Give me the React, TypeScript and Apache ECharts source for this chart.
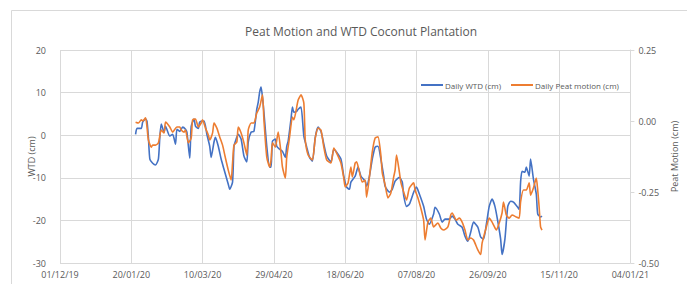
import React, { useEffect, useRef } from "react";
import * as echarts from "echarts";

// x values: days since 01/12/19
const startDateUTC = Date.UTC(2019, 11, 1);
const xTickDays = [0, 50, 100, 150, 200, 250, 300, 350, 400];
const wtdTicks = [-30, -20, -10, 0, 10, 20];
const peatTicks = [-0.5, -0.25, 0, 0.25];

const titleText = "Peat Motion and WTD Coconut Plantation";
const wtdName = "Daily WTD (cm)";
const peatName = "Daily Peat motion (cm)";

// [day, WTD cm]
const wtdSeries: [number, number][] = [
  [53, 0.2], [54, 1.6], [57, 1.6], [58, 3.1], [60, 3.8], [61, 3.3], [62, -0.5], [63, -5.6], [65, -6.6], [67, -7.0],
  [69, -5.6], [70, -0.5], [71, 2.6], [73, 0.7], [74, 2.1], [77, -0.2], [79, 0.2], [81, -2.1], [82, 1.4], [84, 0.9],
  [86, 1.9], [88, 1.4], [89, 0.7], [91, -5.4], [92, 2.1], [94, 3.8], [95, 2.1], [97, 1.6], [98, 3.1], [101, 3.3],
  [103, 0.2], [105, -2.6], [106, -5.2], [108, -1.6], [109, -0.5], [111, -2.6], [113, -5.6], [115, -8.0], [118, -11.5], [119, -12.7],
  [121, -11.0], [122, -2.6], [123, -1.4], [125, 0.2], [127, -0.9], [129, -4.9], [131, -6.3], [132, -1.6], [134, 0.7], [136, 0.9],
  [138, 6.1], [139, 7.7], [140, 10.1], [141, 11.3], [142, 8.9], [143, 5.4], [145, -2.6], [147, -7.5], [148, -7.5], [149, -1.4],
  [151, -0.9], [152, -2.6], [154, -3.3], [156, -3.8], [158, -5.2], [159, -2.6], [160, -1.4], [162, 3.8], [163, 6.6], [164, 5.4],
  [166, 5.6], [167, 6.1], [169, 6.6], [171, -0.2], [173, -2.8], [175, -5.2], [177, -6.1], [179, -0.5], [181, 1.9], [183, 0.9],
  [185, -2.1], [187, -4.9], [190, -6.3], [192, -3.3], [194, -4.0], [197, -5.6], [199, -9.6], [201, -12.2], [203, -12.7], [204, -11.0],
  [207, -9.6], [209, -7.5], [211, -9.6], [214, -10.8], [215, -12.0], [217, -9.6], [219, -5.6], [221, -2.8], [223, -2.6], [225, -5.6],
  [227, -9.6], [228, -12.0], [231, -13.4], [233, -12.7], [235, -10.8], [238, -9.9], [240, -11.0], [241, -14.1], [243, -16.7], [245, -16.2],
  [248, -13.4], [250, -12.2], [252, -13.8], [255, -16.7], [257, -19.7], [259, -20.9], [262, -18.5], [263, -16.9], [266, -18.5], [268, -20.4],
  [270, -19.7], [273, -19.7], [275, -19.0], [277, -19.7], [279, -20.9], [282, -21.6], [284, -23.7], [286, -24.9], [288, -22.8], [290, -20.4],
  [293, -21.6], [295, -23.9], [297, -24.4], [299, -20.9], [301, -16.7], [303, -15.0], [305, -16.7], [307, -20.2], [309, -24.4], [310, -28.0],
  [312, -24.4], [314, -16.7], [316, -15.5], [318, -15.7], [321, -16.9], [322, -17.4], [323, -11.0], [324, -8.5], [326, -8.7], [327, -7.5],
  [329, -9.6], [330, -5.6], [332, -10.3], [334, -13.8], [335, -18.5], [337, -19.2], [338, -19.0],
];

// [day, peat motion cm]
const peatSeries: [number, number][] = [
  [53, -0.004], [55, -0.007], [57, 0.004], [58, 0.0], [60, 0.011], [61, -0.021], [62, -0.067], [64, -0.092], [65, -0.085], [67, -0.085],
  [69, -0.077], [71, -0.032], [73, -0.042], [74, -0.004], [77, -0.021], [79, -0.039], [82, -0.021], [84, -0.021], [85, -0.032], [87, -0.039],
  [88, -0.032], [90, -0.077], [92, -0.06], [93, 0.004], [95, 0.007], [97, -0.021], [99, -0.007], [100, 0.004], [102, -0.025], [104, -0.049],
  [105, -0.067], [107, -0.042], [108, -0.007], [110, -0.025], [112, -0.056], [114, -0.085], [116, -0.13], [118, -0.173], [120, -0.208], [121, -0.148],
  [122, -0.085], [124, -0.074], [125, -0.021], [127, -0.042], [129, -0.077], [131, -0.12], [132, -0.032], [134, -0.007], [136, -0.007], [138, 0.028],
  [140, 0.049], [142, 0.092], [143, 0.004], [145, -0.127], [147, -0.162], [148, -0.137], [149, -0.077], [151, -0.092], [153, -0.039], [155, -0.113],
  [156, -0.162], [158, -0.201], [159, -0.127], [161, -0.056], [163, 0.014], [164, 0.004], [166, 0.049], [167, 0.074], [169, 0.092], [171, 0.063],
  [172, -0.067], [174, -0.12], [177, -0.137], [179, -0.06], [181, -0.025], [183, -0.032], [185, -0.092], [187, -0.137], [190, -0.148], [192, -0.095],
  [194, -0.113], [197, -0.148], [199, -0.201], [200, -0.232], [202, -0.218], [204, -0.162], [205, -0.197], [207, -0.148], [208, -0.144], [210, -0.18],
  [212, -0.215], [214, -0.208], [215, -0.268], [217, -0.197], [219, -0.109], [221, -0.06], [223, -0.056], [225, -0.12], [226, -0.183], [228, -0.225],
  [230, -0.271], [232, -0.254], [234, -0.197], [235, -0.173], [236, -0.12], [238, -0.18], [239, -0.215], [241, -0.25], [243, -0.278], [245, -0.236],
  [248, -0.218], [249, -0.243], [251, -0.271], [253, -0.306], [255, -0.349], [256, -0.419], [258, -0.356], [260, -0.342], [262, -0.373], [265, -0.359],
  [267, -0.377], [269, -0.384], [272, -0.373], [274, -0.331], [275, -0.324], [278, -0.349], [280, -0.342], [282, -0.356], [284, -0.384], [286, -0.419],
  [288, -0.412], [290, -0.419], [293, -0.454], [295, -0.47], [296, -0.43], [299, -0.373], [301, -0.342], [303, -0.356], [304, -0.366], [306, -0.384],
  [308, -0.359], [310, -0.324], [311, -0.285], [313, -0.331], [315, -0.342], [317, -0.331], [320, -0.338], [322, -0.342], [323, -0.285], [325, -0.243],
  [327, -0.243], [329, -0.218], [330, -0.261], [332, -0.236], [334, -0.201], [335, -0.243], [336, -0.303], [337, -0.373], [338, -0.384],
];

const pad = (n: number) => (n < 10 ? "0" + n : "" + n);
const dayLabel = (d: number) => {
  const dt = new Date(startDateUTC + d * 86400000);
  return pad(dt.getUTCDate()) + "/" + pad(dt.getUTCMonth() + 1) + "/" + pad(dt.getUTCFullYear() % 100);
};

const FONT = "Open Sans";
const TXT = "#595959";
const GRID = "#d9d9d9";
const BLUE = "#4472C4";
const ORANGE = "#ED7D31";

export default function App() {
  const ref = useRef<HTMLDivElement>(null);
  useEffect(() => {
    document.body.style.margin = "0";
    const chart = echarts.init(ref.current!, null, { renderer: "svg" });
    chart.setOption({
      animation: false,
      backgroundColor: "#ffffff",
      textStyle: { fontFamily: FONT },
      title: {
        text: titleText,
        left: 356,
        textAlign: "center",
        top: 20,
        textStyle: { fontFamily: FONT, fontSize: 12, fontWeight: "normal", color: TXT },
      },
      graphic: [
        {
          type: "rect",
          silent: true,
          shape: { x: 11.5, y: 10.5, width: 700, height: 300 },
          style: { fill: "none", stroke: GRID, lineWidth: 1 },
        },
      ],
      legend: {
        left: 416,
        top: 76,
        itemWidth: 22,
        itemHeight: 2,
        itemGap: 10,
        icon: "rect",
        textStyle: { fontFamily: FONT, fontSize: 8, color: TXT, padding: [0, 0, 0, -3] },
        data: [
          { name: wtdName, itemStyle: { color: BLUE } },
          { name: peatName, itemStyle: { color: ORANGE } },
        ],
      },
      grid: { left: 60, right: 43, top: 50, bottom: 21, containLabel: false },
      xAxis: {
        type: "value",
        min: xTickDays[0],
        max: xTickDays[xTickDays.length - 1],
        interval: 50,
        axisLine: { show: false },
        axisTick: { show: false },
        splitLine: { show: true, lineStyle: { color: GRID, width: 1 } },
        axisLabel: {
          formatter: (v: number) => dayLabel(v),
          color: TXT,
          fontSize: 9,
          fontFamily: FONT,
          margin: 7,
        },
      },
      yAxis: [
        {
          type: "value",
          min: wtdTicks[0],
          max: wtdTicks[wtdTicks.length - 1],
          interval: 10,
          name: "WTD (cm)",
          nameLocation: "middle",
          nameGap: 24,
          nameMoveOverlap: false,
          nameTextStyle: { fontFamily: FONT, fontSize: 9, color: TXT },
          axisLine: { show: false },
          axisTick: { show: false },
          splitLine: { show: true, lineStyle: { color: GRID, width: 1 } },
          axisLabel: { color: TXT, fontSize: 9, fontFamily: FONT, margin: 14 },
        },
        {
          type: "value",
          min: peatTicks[0],
          max: peatTicks[peatTicks.length - 1],
          interval: 0.25,
          position: "right",
          name: "Peat Motion (cm)",
          nameLocation: "middle",
          nameGap: 33,
          nameRotate: 90,
          nameTextStyle: { fontFamily: FONT, fontSize: 9, color: TXT },
          axisLine: { show: true, lineStyle: { color: GRID, width: 1 } },
          axisTick: { show: true, length: 4, inside: false, lineStyle: { color: GRID } },
          splitLine: { show: false },
          axisLabel: {
            color: TXT,
            fontSize: 9,
            fontFamily: FONT,
            margin: 8,
            formatter: (v: number) => v.toFixed(2),
          },
        },
      ],
      series: [
        {
          name: wtdName,
          type: "line",
          yAxisIndex: 0,
          data: wtdSeries,
          symbol: "none",
          smooth: 0.2,
          lineStyle: { color: BLUE, width: 1.6 },
          itemStyle: { color: BLUE },
        },
        {
          name: peatName,
          type: "line",
          yAxisIndex: 1,
          data: peatSeries,
          symbol: "none",
          smooth: 0.2,
          lineStyle: { color: ORANGE, width: 1.6 },
          itemStyle: { color: ORANGE },
        },
      ],
    });
    return () => chart.dispose();
  }, []);
  return (
    <div
      ref={ref}
      style={{ position: "absolute", left: 0, top: 0, width: 687, height: 284 }}
    />
  );
}
